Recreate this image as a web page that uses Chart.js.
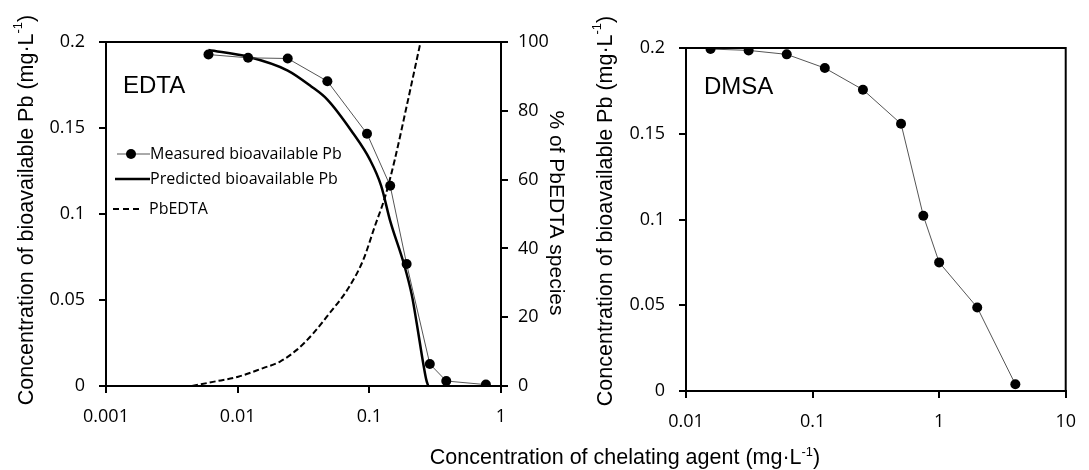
<!DOCTYPE html>
<html>
<head>
<meta charset="utf-8">
<script src="https://cdn.jsdelivr.net/npm/chart.js@4/dist/chart.umd.min.js"></script>
<style>
  html, body { margin:0; padding:0; background:#fff; }
  #wrap { position:relative; width:1089px; height:470px; overflow:hidden; background:#fff; }
  #cL { position:absolute; left:0; top:0; }
  #cR { position:absolute; left:575px; top:0; }
  #xTitle { position:absolute; left:625px; top:447px; transform:translateX(-50%); white-space:nowrap;
            font-family:"Liberation Sans", Arial, sans-serif; font-size:21.5px; line-height:1; color:#000; }
  #xTitle .sup { font-size:0.6em; position:relative; top:-0.6em; }
</style>
</head>
<body>
<div id="wrap">
  <canvas id="cL" width="575" height="470"></canvas>
  <canvas id="cR" width="514" height="470"></canvas>
  <div id="xTitle">Concentration of chelating agent (mg·L<span class="sup">-1</span>)</div>
</div>
<script>
// ---------- DATA ----------
// EDTA panel
const edtaMeasuredX = [0.006, 0.012, 0.024, 0.048, 0.096, 0.144, 0.192, 0.288, 0.384, 0.768];
const edtaMeasuredY = [0.1927, 0.1908, 0.1904, 0.1772, 0.1467, 0.1164, 0.0709, 0.0128, 0.0029, 0.0008];
const edtaPredX = [0.006, 0.012, 0.024, 0.036, 0.048, 0.075, 0.101, 0.123, 0.144, 0.183, 0.21, 0.229, 0.2565, 0.27, 0.28];
const edtaPredY = [0.1953, 0.1914, 0.1834, 0.1743, 0.1665, 0.1471, 0.1316, 0.1164, 0.096, 0.071, 0.0530, 0.0365, 0.0132, 0.004, 0];
const pbedtaX = [0.0045, 0.0065, 0.0101, 0.0156, 0.021, 0.0281, 0.0375, 0.0488, 0.0692, 0.09, 0.11, 0.132, 0.156, 0.192, 0.245];
const pbedtaPct = [0, 1.2, 2.7, 5.2, 7.1, 10.5, 15.3, 20.7, 28.4, 36.7, 46.4, 55.1, 65.8, 81.3, 100];
// DMSA panel
const dmsaX = [0.015625, 0.03125, 0.0625, 0.125, 0.25, 0.5, 0.75, 1, 2, 4];
const dmsaY = [0.1994, 0.1986, 0.1963, 0.1883, 0.1757, 0.1558, 0.1022, 0.075, 0.0487, 0.0039];
// Ticks
const edtaXTicks = [0.001, 0.01, 0.1, 1];
const edtaXTickLabels = ['0.001', '0.01', '0.1', '1'];
const dmsaXTicks = [0.01, 0.1, 1, 10];
const dmsaXTickLabels = ['0.01', '0.1', '1', '10'];
const yTicks = [0, 0.05, 0.1, 0.15, 0.2];
const yTickLabels = ['0', '0.05', '0.1', '0.15', '0.2'];
const pctTicks = [0, 20, 40, 60, 80, 100];
const pctTickLabels = ['0', '20', '40', '60', '80', '100'];
// Labels
const seriesNames = ['Measured bioavailable Pb', 'Predicted bioavailable Pb', 'PbEDTA'];
const yTitleMain = 'Concentration of bioavailable Pb (mg·L';
const pctTitle = '% of PbEDTA species';

// ---------- HELPERS ----------
const zip = (xs, ys) => xs.map((x, i) => ({x: x, y: ys[i]}));
const ARIAL = '"Liberation Sans", Arial, sans-serif';
const TICKFONT = {family: '"Open Sans", sans-serif', size: 18};

function drawRich(ctx, cx, cy, angle, segs, size) {
  ctx.save();
  ctx.translate(cx, cy);
  ctx.rotate(angle);
  ctx.fillStyle = '#000';
  ctx.textBaseline = 'middle';
  ctx.textAlign = 'left';
  const ws = segs.map(s => {
    ctx.font = (s.sup ? size * 0.6 : size) + 'px ' + ARIAL;
    return ctx.measureText(s.t).width;
  });
  let x = -ws.reduce((a, b) => a + b, 0) / 2;
  segs.forEach((s, i) => {
    ctx.font = (s.sup ? size * 0.6 : size) + 'px ' + ARIAL;
    ctx.fillText(s.t, x, s.sup ? -size * 0.38 : 0);
    x += ws[i];
  });
  ctx.restore();
}

const decor = {
  id: 'decor',
  afterDraw(chart, args, o) {
    const ctx = chart.ctx, a = chart.chartArea;
    ctx.save();
    ctx.strokeStyle = '#000';
    ctx.lineWidth = 2;
    ctx.setLineDash([]);
    ctx.strokeRect(a.left, a.top, a.right - a.left, a.bottom - a.top);
    // panel label
    ctx.fillStyle = '#000';
    ctx.font = '24px ' + ARIAL;
    ctx.textBaseline = 'alphabetic';
    ctx.textAlign = 'left';
    ctx.fillText(o.label, a.left + o.labelDx, a.top + o.labelDy);
    // y title
    drawRich(ctx, o.yTitleX, o.yTitleY, -Math.PI / 2,
      [{t: yTitleMain}, {t: '-1', sup: true}, {t: ')'}], 21.5);
    if (o.pctTitle) {
      drawRich(ctx, o.pctTitleX, o.pctTitleY, Math.PI / 2, [{t: pctTitle}], 21);
    }
    // legend
    if (o.legend) {
      const ds = chart.data.datasets;
      ctx.font = '16px "Open Sans", sans-serif';
      ctx.textBaseline = 'middle';
      const rows = [
        {y: 154, x0: 117, x1: 150, tx: 150, d: ds[0], dot: 131},
        {y: 179, x0: 115, x1: 150, tx: 150, d: ds[1]},
        {y: 209, x0: 113, x1: 143, tx: 149, d: ds[2], dash: [6, 4]}
      ];
      rows.forEach(r => {
        ctx.strokeStyle = r.d.borderColor;
        ctx.lineWidth = r.d.borderWidth;
        ctx.setLineDash(r.dash || []);
        ctx.beginPath();
        ctx.moveTo(r.x0, r.y);
        ctx.lineTo(r.x1, r.y);
        ctx.stroke();
        ctx.setLineDash([]);
        if (r.dot) {
          ctx.fillStyle = '#000';
          ctx.beginPath();
          ctx.arc(r.dot, r.y, 5, 0, Math.PI * 2);
          ctx.fill();
        }
        ctx.fillStyle = '#000';
        ctx.fillText(r.d.label, r.tx, r.y);
      });
    }
    ctx.restore();
  }
};

function tickCfg(labels, padding) {
  return {
    callback: (v, i) => labels[i],
    font: TICKFONT, color: '#000', padding: padding,
    autoSkip: false, maxRotation: 0, minRotation: 0
  };
}
const gridCfg = {drawOnChartArea: false, drawTicks: true, tickLength: 7, color: '#000', lineWidth: 2};
const borderCfg = {display: true, color: '#000', width: 2};

// ---------- EDTA CHART ----------
new Chart(document.getElementById('cL'), {
  type: 'scatter',
  data: {
    datasets: [
      {label: seriesNames[0], data: zip(edtaMeasuredX, edtaMeasuredY), showLine: true,
       borderColor: '#555', borderWidth: 1, pointRadius: 5, pointHoverRadius: 5,
       pointBackgroundColor: '#000', pointBorderColor: '#000', pointBorderWidth: 0, yAxisID: 'y'},
      {label: seriesNames[1], data: zip(edtaPredX, edtaPredY), showLine: true,
       borderColor: '#000', borderWidth: 2.5, pointRadius: 0, cubicInterpolationMode: 'monotone', yAxisID: 'y'},
      {label: seriesNames[2], data: zip(pbedtaX, pbedtaPct), showLine: true,
       borderColor: '#000', borderWidth: 2, borderDash: [6, 3], pointRadius: 0,
       cubicInterpolationMode: 'monotone', yAxisID: 'y1'}
    ]
  },
  options: {
    responsive: false, animation: false, maintainAspectRatio: false,
    layout: {padding: {top: 42, left: 0, right: 0, bottom: 0}},
    plugins: {
      legend: {display: false}, tooltip: {enabled: false},
      decor: {label: 'EDTA', labelDx: 17, labelDy: 51, yTitleX: 27, yTitleY: 210,
              pctTitle: true, pctTitleX: 556, pctTitleY: 213, legend: true}
    },
    scales: {
      x: {type: 'logarithmic', min: 0.001, max: 1,
          afterBuildTicks: s => { s.ticks = edtaXTicks.map(v => ({value: v})); },
          afterFit: s => { s.height = 84; },
          ticks: tickCfg(edtaXTickLabels, 13), grid: gridCfg, border: borderCfg},
      y: {position: 'left', min: 0, max: 0.2,
          afterBuildTicks: s => { s.ticks = yTicks.map(v => ({value: v})); },
          afterFit: s => { s.width = 106; },
          ticks: tickCfg(yTickLabels, 14), grid: gridCfg, border: borderCfg},
      y1: {position: 'right', min: 0, max: 100,
          afterBuildTicks: s => { s.ticks = pctTicks.map(v => ({value: v})); },
          afterFit: s => { s.width = 74; },
          ticks: tickCfg(pctTickLabels, 10), grid: gridCfg, border: borderCfg}
    }
  },
  plugins: [decor]
});

// ---------- DMSA CHART ----------
new Chart(document.getElementById('cR'), {
  type: 'scatter',
  data: {
    datasets: [
      {label: 'DMSA', data: zip(dmsaX, dmsaY), showLine: true,
       borderColor: '#555', borderWidth: 1, pointRadius: 5, pointHoverRadius: 5,
       pointBackgroundColor: '#000', pointBorderColor: '#000', pointBorderWidth: 0}
    ]
  },
  options: {
    responsive: false, animation: false, maintainAspectRatio: false,
    layout: {padding: {top: 48, left: 0, right: 19, bottom: 0}},
    plugins: {
      legend: {display: false}, tooltip: {enabled: false},
      decor: {label: 'DMSA', labelDx: 18, labelDy: 46, yTitleX: 31, yTitleY: 211,
              pctTitle: false, legend: false}
    },
    scales: {
      x: {type: 'logarithmic', min: 0.01, max: 10,
          afterBuildTicks: s => { s.ticks = dmsaXTicks.map(v => ({value: v})); },
          afterFit: s => { s.height = 79; },
          ticks: tickCfg(dmsaXTickLabels, 13), grid: gridCfg, border: borderCfg},
      y: {position: 'left', min: 0, max: 0.2,
          afterBuildTicks: s => { s.ticks = yTicks.map(v => ({value: v})); },
          afterFit: s => { s.width = 111; },
          ticks: tickCfg(yTickLabels, 14), grid: gridCfg, border: borderCfg}
    }
  },
  plugins: [decor]
});
</script>
</body>
</html>
